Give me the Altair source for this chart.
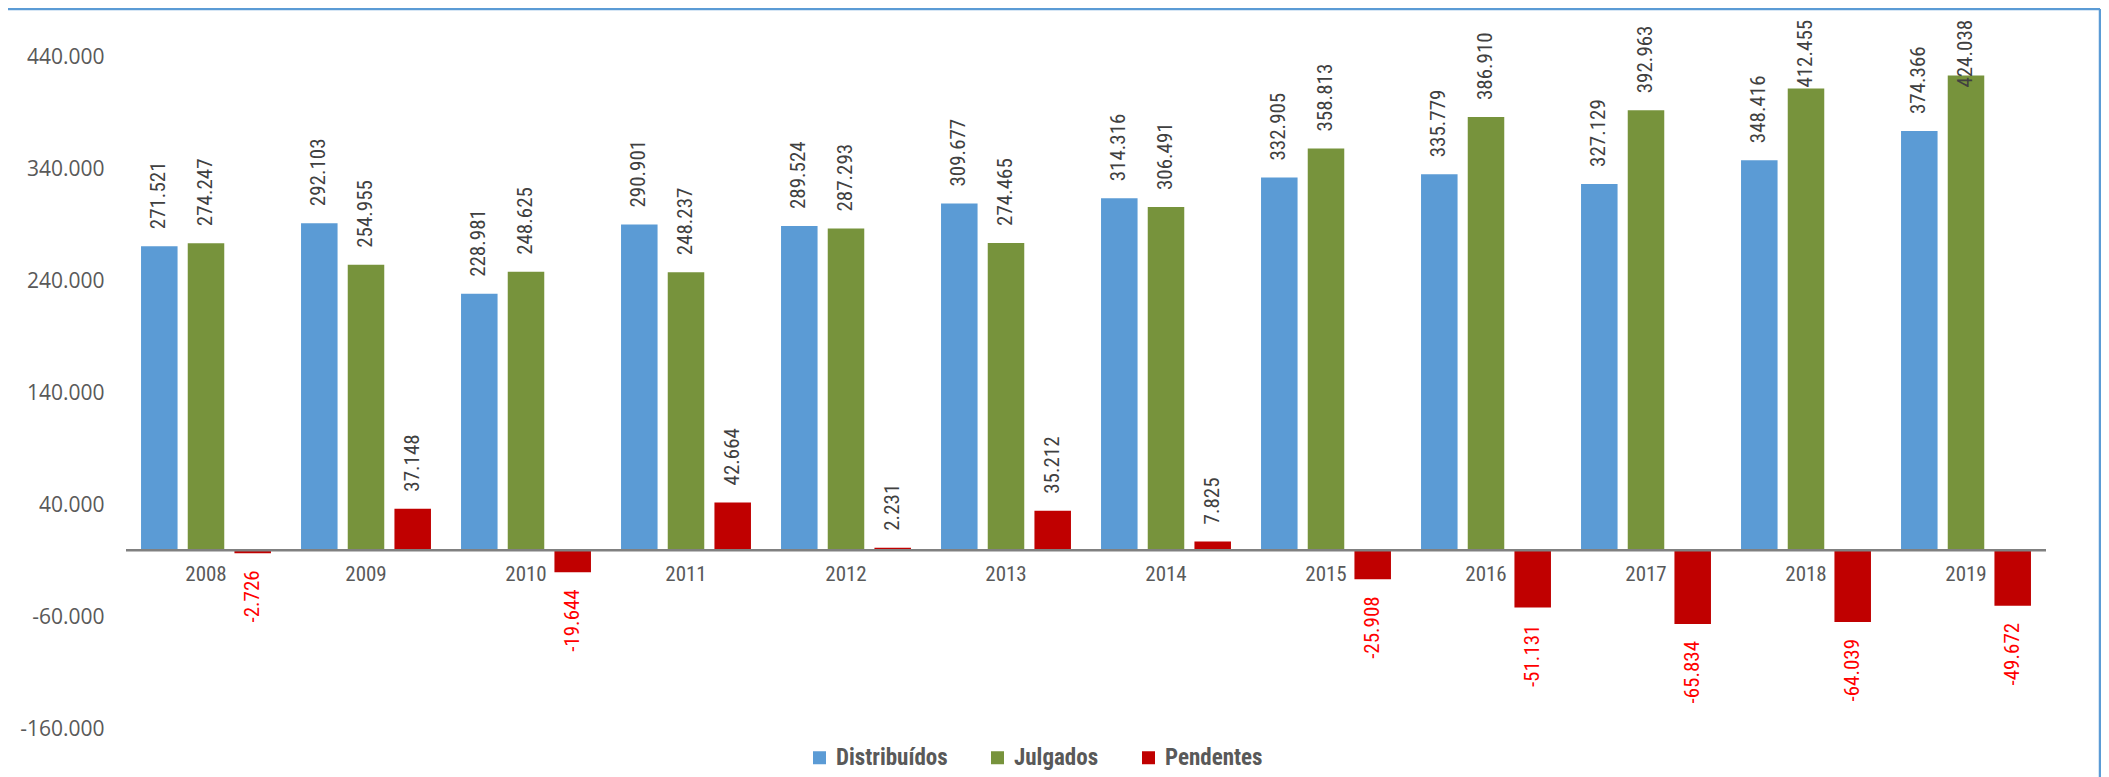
import altair as alt
import pandas as pd

years = ["2008", "2009", "2010", "2011", "2012", "2013", "2014", "2015", "2016", "2017", "2018", "2019"]
series = ["Distribuídos", "Julgados", "Pendentes"]
colors = ["#5B9BD5", "#77933C", "#C00000"]
distribuidos = [271521, 292103, 228981, 290901, 289524, 309677, 314316, 332905, 335779, 327129, 348416, 374366]
julgados = [274247, 254955, 248625, 248237, 287293, 274465, 306491, 358813, 386910, 392963, 412455, 424038]
pendentes = [-2726, 37148, -19644, 42664, 2231, 35212, 7825, -25908, -51131, -65834, -64039, -49672]
y_ticks = [-160000, -60000, 40000, 140000, 240000, 340000, 440000]

rows = []
for name, vals in zip(series, [distribuidos, julgados, pendentes]):
    for yr, v in zip(years, vals):
        rows.append({"year": yr, "serie": name, "v": v})
df = pd.DataFrame(rows)

NARROW = "Liberation Sans Narrow, Arial Narrow, Roboto Condensed, DejaVu Sans Condensed, sans-serif"
FMT = "(datum.value < 0 ? '-' : '') + replace(format(abs(datum.value), ',d'), ',', '.')"

x_enc = alt.X("year:N", sort=years,
              scale=alt.Scale(paddingInner=0, paddingOuter=0),
              axis=alt.Axis(orient="bottom", offset=-185, domain=False, ticks=False, labelAngle=0,
                            labelFont=NARROW, labelFontSize=21, labelColor="#595959",
                            labelPadding=13, title=None))
xo_enc = alt.XOffset("serie:N", sort=series,
                     scale=alt.Scale(paddingInner=0.218, paddingOuter=0.322))
y_axis = alt.Axis(values=y_ticks, labelExpr=FMT, domain=False, ticks=False, grid=False,
                  labelFont="Open Sans", labelFontSize=21, labelColor="#595959",
                  labelPadding=22, title=None)
y_scale = alt.Scale(domain=[-165000, 470000], nice=False, zero=False)

base = alt.Chart(df)

bars = base.mark_bar().encode(
    x=x_enc,
    xOffset=xo_enc,
    y=alt.Y("v:Q", scale=y_scale, axis=y_axis),
    color=alt.Color("serie:N", sort=series,
                    scale=alt.Scale(domain=series, range=colors),
                    legend=alt.Legend(orient="none", legendX=682, legendY=722,
                                      direction="horizontal", title=None,
                                      symbolType="square", symbolSize=169,
                                      symbolStrokeWidth=0, labelFont=NARROW,
                                      labelFontSize=23, labelFontWeight="bold",
                                      labelColor="#595959", columnPadding=38,
                                      labelOffset=5)),
)

lab = base.transform_calculate(
    lbl="(datum.v < 0 ? '-' : '') + replace(format(abs(datum.v), ',d'), ',', '.')",
    ly="datum.v > 0 ? min(datum.v, 398000) : datum.v",
)

pos_text = lab.transform_filter("datum.v >= 0").mark_text(
    angle=270, align="left", baseline="middle", dx=17,
    font=NARROW, fontSize=21, color="#404040",
).encode(
    x=x_enc, xOffset=xo_enc,
    y=alt.Y("ly:Q", scale=y_scale, axis=y_axis),
    text="lbl:N",
)

neg_text = lab.transform_filter("datum.v < 0").mark_text(
    angle=270, align="right", baseline="middle", dx=-17,
    font=NARROW, fontSize=21, color="#FF0000",
).encode(
    x=x_enc, xOffset=xo_enc,
    y=alt.Y("ly:Q", scale=y_scale, axis=y_axis),
    text="lbl:N",
)

zero = alt.Chart(pd.DataFrame({"z": [0]})).mark_rule(color="#808080", strokeWidth=2.5).encode(
    y=alt.datum(0, scale=y_scale)
)

dummy = alt.Chart(pd.DataFrame({"a": [0]}))
top_line = dummy.mark_rule(color="#5B9BD5", strokeWidth=2.5).encode(
    x=alt.value(-119), x2=alt.value(1974), y=alt.value(-15))
right_line = dummy.mark_rule(color="#5B9BD5", strokeWidth=2.5).encode(
    x=alt.value(1974), y=alt.value(-15), y2=alt.value(760))

chart = alt.layer(bars, zero, pos_text, neg_text, top_line, right_line).properties(
    width=1920, height=711,
    autosize=alt.AutoSizeParams(type="none"),
    padding={"left": 118, "top": 16, "right": 55, "bottom": 42},
).configure_view(stroke="transparent")

chart.save("out.html", embed_options={"renderer": "svg", "actions": False})
